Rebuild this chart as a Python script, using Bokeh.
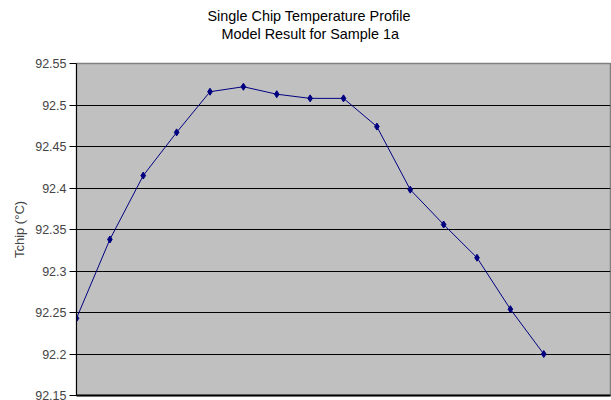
from bokeh.plotting import figure
from bokeh.models import Range1d, FixedTicker, Title
from bokeh.embed import file_html
from bokeh.resources import INLINE

# Data
sample_index = list(range(15))
tchip = [92.243, 92.338, 92.415, 92.467, 92.516, 92.522, 92.513, 92.508,
         92.508, 92.474, 92.398, 92.356, 92.316, 92.254, 92.200]
y_ticks = [92.15, 92.2, 92.25, 92.3, 92.35, 92.4, 92.45, 92.5, 92.55]
y_tick_labels = ["92.15", "92.2", "92.25", "92.3", "92.35", "92.4", "92.45", "92.5", "92.55"]
title_lines = ["Single Chip Temperature Profile", "Model Result for Sample 1a"]
y_label = "Tchip (°C)"

FONT = "Liberation Sans"

p = figure(width=611, height=400, output_backend="svg", toolbar_location=None,
           x_range=Range1d(0, 16), y_range=Range1d(92.15, 92.55),
           min_border_left=76, min_border_right=1, min_border_top=63, min_border_bottom=5,
           title=None)

p.background_fill_color = "#C0C0C0"
p.border_fill_color = "white"
p.outline_line_color = "#808080"
p.outline_line_width = 1.5

# two-line title (each line its own title)
t2 = Title(text=title_lines[1], align="left", offset=145, standoff=0,
           text_font=FONT, text_font_size="14.4px", text_font_style="normal",
           text_color="black", text_line_height=1.0)
t1 = Title(text=title_lines[0], align="left", offset=131, standoff=0,
           text_font=FONT, text_font_size="14.4px", text_font_style="normal",
           text_color="black", text_line_height=1.0)
try:
    t1.standoff = -44
    t2.standoff = 44
except Exception:
    t1.standoff = 0
    t2.standoff = 0
p.add_layout(t2, "above")
p.add_layout(t1, "above")

# grids
p.xgrid.visible = False
p.ygrid.grid_line_color = "black"
p.ygrid.grid_line_width = 1
p.ygrid.ticker = FixedTicker(ticks=y_ticks)

# y axis
p.yaxis.ticker = FixedTicker(ticks=y_ticks)
p.yaxis.major_label_overrides = {v: s for v, s in zip(y_ticks, y_tick_labels)}
p.yaxis.axis_label = y_label
p.yaxis.axis_label_text_font = FONT
p.yaxis.axis_label_text_font_size = "13px"
p.yaxis.axis_label_text_font_style = "normal"
p.yaxis.axis_label_standoff = 5
p.yaxis.major_label_text_font = FONT
p.yaxis.major_label_text_font_size = "12.5px"
p.yaxis.major_label_standoff = 3
p.yaxis.major_tick_out = 7
p.yaxis.major_tick_in = 0
p.yaxis.minor_tick_out = 0
p.yaxis.minor_tick_in = 0
p.yaxis.axis_line_color = "black"

# x axis: line only
p.xaxis.ticker = FixedTicker(ticks=[])
p.xaxis.major_tick_out = 0
p.xaxis.major_tick_in = 0
p.xaxis.minor_tick_out = 0
p.xaxis.minor_tick_in = 0
p.xaxis.axis_line_color = "black"
p.xaxis.axis_line_width = 2

p.line(sample_index, tchip, line_color="#000080", line_width=1)
p.scatter(sample_index, tchip, marker="diamond", size=7, fill_color="#000080",
          line_color="#000080")

open("out.html", "w").write(file_html(p, INLINE))
